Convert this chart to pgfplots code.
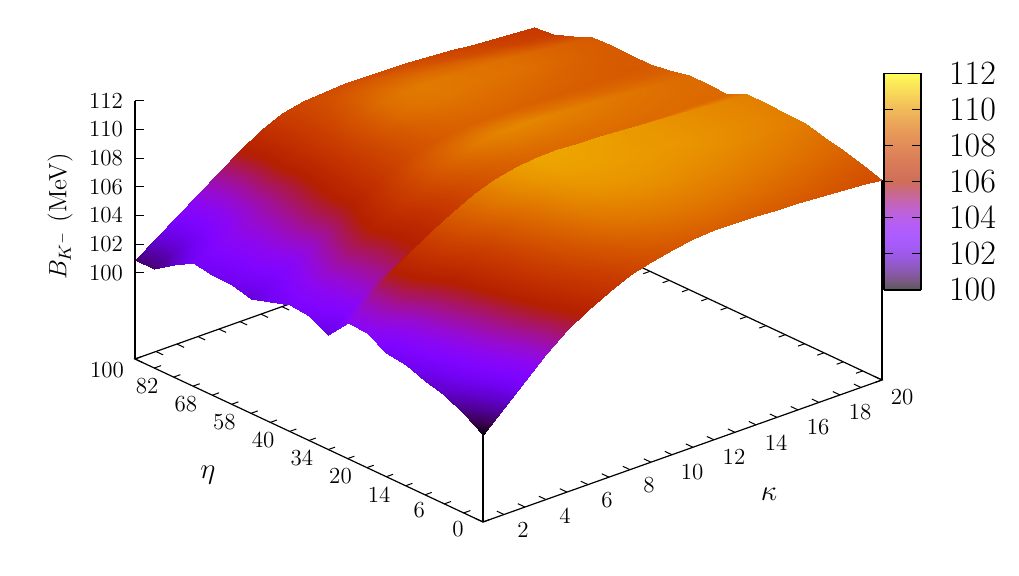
\documentclass[border=0pt]{standalone}
\usepackage{fix-cm}
\usepackage{pgfplots}
\usepackage{pgfplotstable}
\pgfplotsset{compat=1.18}

\pgfplotsset{
  colormap={gp}{rgb=(0,0,0) rgb=(.224,0,.309) rgb=(.316,.001,.588) rgb=(.387,.003,.809) rgb=(.447,.008,.951)
    rgb=(.5,.016,1) rgb=(.548,.027,.951) rgb=(.592,.043,.809) rgb=(.632,.064,.588) rgb=(.671,.091,.309)
    rgb=(.707,.125,0) rgb=(.742,.166,0) rgb=(.775,.216,0) rgb=(.806,.275,0) rgb=(.837,.343,0)
    rgb=(.866,.422,0) rgb=(.894,.512,0) rgb=(.922,.614,0) rgb=(.949,.729,0) rgb=(.975,.857,0) rgb=(1,1,0)},
  colormap={gpbar}{rgb=(.35,.35,.35) rgb=(.496,.35,.551) rgb=(.555,.351,.732) rgb=(.602,.352,.876) rgb=(.641,.355,.968)
    rgb=(.675,.36,1) rgb=(.706,.368,.968) rgb=(.735,.378,.876) rgb=(.761,.392,.732) rgb=(.786,.409,.551)
    rgb=(.81,.431,.35) rgb=(.832,.458,.35) rgb=(.854,.49,.35) rgb=(.874,.529,.35) rgb=(.894,.573,.35)
    rgb=(.913,.624,.35) rgb=(.931,.683,.35) rgb=(.949,.749,.35) rgb=(.967,.824,.35) rgb=(.984,.907,.35) rgb=(1,1,.35)},
}

% B_K- on the grid: one line per eta index (0..18), kappa = 1..20 along each line
\pgfplotstableread[row sep=\\]{
z \\
100.07 \\ 101.43 \\ 102.80 \\ 104.16 \\ 105.30 \\ 106.20 \\ 106.95 \\ 107.55 \\ 108.00 \\ 108.30 \\ 108.50 \\ 108.60 \\ 108.60 \\ 108.55 \\ 108.50 \\ 108.42 \\ 108.33 \\ 108.22 \\ 108.10 \\ 107.95 \\
100.90 \\ 102.10 \\ 103.30 \\ 104.55 \\ 105.65 \\ 106.55 \\ 107.30 \\ 107.95 \\ 108.45 \\ 108.80 \\ 109.00 \\ 109.10 \\ 109.10 \\ 109.05 \\ 109.00 \\ 108.90 \\ 108.80 \\ 108.65 \\ 108.50 \\ 108.40 \\
101.60 \\ 102.70 \\ 103.85 \\ 105.00 \\ 106.05 \\ 106.95 \\ 107.75 \\ 108.40 \\ 108.95 \\ 109.30 \\ 109.45 \\ 109.50 \\ 109.50 \\ 109.45 \\ 109.40 \\ 109.30 \\ 109.20 \\ 109.10 \\ 108.95 \\ 108.80 \\
101.96 \\ 103.05 \\ 104.20 \\ 105.30 \\ 106.35 \\ 107.30 \\ 108.10 \\ 108.80 \\ 109.35 \\ 109.65 \\ 109.80 \\ 109.85 \\ 109.80 \\ 109.75 \\ 109.70 \\ 109.60 \\ 109.50 \\ 109.40 \\ 109.25 \\ 109.07 \\
102.40 \\ 103.45 \\ 104.55 \\ 105.60 \\ 106.65 \\ 107.55 \\ 108.40 \\ 109.10 \\ 109.65 \\ 109.95 \\ 110.05 \\ 110.05 \\ 110.00 \\ 109.95 \\ 109.90 \\ 109.85 \\ 109.75 \\ 109.65 \\ 109.55 \\ 109.40 \\
102.65 \\ 103.75 \\ 104.90 \\ 105.95 \\ 106.95 \\ 107.85 \\ 108.70 \\ 109.35 \\ 109.85 \\ 110.15 \\ 110.20 \\ 110.20 \\ 110.15 \\ 110.10 \\ 110.05 \\ 109.95 \\ 109.85 \\ 109.75 \\ 109.65 \\ 109.50 \\
103.40 \\ 104.50 \\ 105.65 \\ 106.65 \\ 107.60 \\ 108.45 \\ 109.15 \\ 109.70 \\ 110.10 \\ 110.30 \\ 110.30 \\ 110.25 \\ 110.20 \\ 110.10 \\ 110.05 \\ 109.95 \\ 109.85 \\ 109.75 \\ 109.65 \\ 109.50 \\
103.46 \\ 104.60 \\ 105.90 \\ 106.85 \\ 107.80 \\ 108.60 \\ 109.30 \\ 109.85 \\ 110.20 \\ 110.35 \\ 110.35 \\ 110.30 \\ 110.26 \\ 110.15 \\ 110.05 \\ 109.95 \\ 109.84 \\ 109.74 \\ 109.63 \\ 109.53 \\
102.00 \\ 103.10 \\ 104.30 \\ 105.10 \\ 105.90 \\ 106.50 \\ 107.10 \\ 107.70 \\ 108.10 \\ 108.40 \\ 108.60 \\ 108.75 \\ 108.85 \\ 108.90 \\ 108.95 \\ 108.95 \\ 108.95 \\ 108.95 \\ 108.90 \\ 108.90 \\
102.65 \\ 103.45 \\ 104.30 \\ 105.10 \\ 105.85 \\ 106.50 \\ 107.20 \\ 107.85 \\ 108.40 \\ 108.75 \\ 109.05 \\ 109.15 \\ 109.20 \\ 109.20 \\ 109.20 \\ 109.15 \\ 109.10 \\ 109.05 \\ 109.00 \\ 108.97 \\
102.80 \\ 103.55 \\ 104.45 \\ 105.30 \\ 106.15 \\ 106.90 \\ 107.65 \\ 108.35 \\ 108.95 \\ 109.40 \\ 109.65 \\ 109.70 \\ 109.65 \\ 109.55 \\ 109.45 \\ 109.35 \\ 109.25 \\ 109.15 \\ 109.05 \\ 108.96 \\
102.40 \\ 103.15 \\ 104.00 \\ 104.90 \\ 105.80 \\ 106.65 \\ 107.45 \\ 108.20 \\ 108.70 \\ 109.00 \\ 109.20 \\ 109.25 \\ 109.20 \\ 109.10 \\ 109.05 \\ 108.95 \\ 108.85 \\ 108.80 \\ 108.70 \\ 108.65 \\
101.96 \\ 102.65 \\ 103.45 \\ 104.40 \\ 105.35 \\ 106.20 \\ 107.00 \\ 107.70 \\ 108.20 \\ 108.50 \\ 108.70 \\ 108.75 \\ 108.75 \\ 108.70 \\ 108.65 \\ 108.60 \\ 108.55 \\ 108.50 \\ 108.45 \\ 108.45 \\
102.30 \\ 103.00 \\ 103.75 \\ 104.55 \\ 105.40 \\ 106.20 \\ 106.95 \\ 107.65 \\ 108.20 \\ 108.65 \\ 108.90 \\ 109.00 \\ 109.00 \\ 108.95 \\ 108.90 \\ 108.80 \\ 108.70 \\ 108.60 \\ 108.50 \\ 108.45 \\
102.40 \\ 103.00 \\ 103.70 \\ 104.40 \\ 105.20 \\ 106.00 \\ 106.85 \\ 107.65 \\ 108.35 \\ 109.00 \\ 109.25 \\ 109.30 \\ 109.25 \\ 109.20 \\ 109.15 \\ 109.05 \\ 108.90 \\ 108.75 \\ 108.60 \\ 108.50 \\
102.60 \\ 103.10 \\ 103.70 \\ 104.30 \\ 105.00 \\ 105.85 \\ 106.75 \\ 107.60 \\ 108.35 \\ 109.05 \\ 109.30 \\ 109.35 \\ 109.30 \\ 109.20 \\ 109.15 \\ 109.05 \\ 108.90 \\ 108.75 \\ 108.60 \\ 108.45 \\
101.80 \\ 102.50 \\ 103.20 \\ 104.00 \\ 104.95 \\ 105.95 \\ 106.80 \\ 107.50 \\ 108.15 \\ 108.70 \\ 108.95 \\ 109.00 \\ 108.95 \\ 108.85 \\ 108.75 \\ 108.60 \\ 108.40 \\ 108.20 \\ 108.05 \\ 107.90 \\
100.90 \\ 101.80 \\ 102.75 \\ 103.75 \\ 104.75 \\ 105.80 \\ 106.75 \\ 107.45 \\ 107.95 \\ 108.35 \\ 108.50 \\ 108.55 \\ 108.50 \\ 108.35 \\ 108.20 \\ 108.05 \\ 107.90 \\ 107.70 \\ 107.55 \\ 107.40 \\
100.90 \\ 101.90 \\ 102.93 \\ 103.95 \\ 104.96 \\ 106.00 \\ 106.84 \\ 107.52 \\ 107.83 \\ 107.94 \\ 108.01 \\ 108.01 \\ 107.98 \\ 107.91 \\ 107.81 \\ 107.71 \\ 107.57 \\ 107.43 \\ 107.33 \\ 107.26 \\
}\surfdata

\begin{document}
\begin{tikzpicture}
\begin{axis}[
    x={(10.5pt,3.737pt)},
    y={(-9.667pt,4.528pt)},
    z={(0pt,7.167pt)},
    xmin=1, xmax=20, ymin=0, ymax=18, zmin=94, zmax=112,
    clip=false,
    colormap name=gp,
    point meta min=100, point meta max=112,
    axis line style={draw=none},
    major tick length=0pt, minor tick length=0pt,
    tick style={draw=none},
    tick label style={font=\fontsize{11.5}{13}\selectfont},
    /pgf/number format/assume math mode=true,
    xtick={2,4,...,20},
    ytick={0,2,...,18},
    yticklabels={0,6,14,20,34,40,58,68,82,100},
    ztick={100,102,...,112},
    xticklabel style={xshift=4.5pt},
    yticklabel style={xshift=-7pt, yshift=4.5pt},
    zticklabel style={xshift=-2.5pt, yshift=-0.4pt},
    xlabel={$\kappa$}, ylabel={$\eta$}, zlabel={$B_{K^-}$ (MeV)},
    xlabel style={at={(axis cs:10.37,-4.62,94)}, anchor=center, font=\fontsize{14.5}{16}\selectfont},
    ylabel style={at={(axis cs:-3.74,9.08,94)}, anchor=center, rotate=0, font=\fontsize{14.5}{16}\selectfont},
    zlabel style={at={(axis cs:7.2,28.6,94)}, anchor=center, rotate=0, font=\fontsize{12.5}{14}\selectfont},
]
\coordinate (ref) at (axis cs:1,0,94);
\draw[line width=0.6pt] (axis cs:1,0,94) -- (axis cs:20,0,94) -- (axis cs:20,18,94) -- (axis cs:1,18,94) -- cycle;
\draw[line width=0.6pt] (axis cs:1,18,94) -- (axis cs:1,18,112);
\draw[line width=0.6pt] (axis cs:1,0,94) -- (axis cs:1,0,100.07);
\draw[line width=0.6pt] (axis cs:20,0,94) -- (axis cs:20,0,107.95);
% floor ticks on all four edges, z ticks only on the left post
\pgfplotsinvokeforeach{1,...,20}{
  \draw[line width=0.5pt] (axis cs:#1,0,94) -- (axis cs:#1,0.37,94);
  \draw[line width=0.5pt] (axis cs:#1,18,94) -- (axis cs:#1,17.63,94);
}
\pgfplotsinvokeforeach{0,...,18}{
  \draw[line width=0.5pt] (axis cs:1,#1,94) -- (axis cs:1.32,#1,94);
  \draw[line width=0.5pt] (axis cs:20,#1,94) -- (axis cs:19.68,#1,94);
}
\pgfplotsinvokeforeach{100,102,...,112}{
  \draw[line width=0.5pt] (axis cs:1,18,#1) -- ++(4.5pt,0pt);
}
\addplot3[surf, shader=interp, z buffer=sort, mesh/cols=20, mesh/ordering=x varies, point meta=z]
  table[x index=0, y index=0, z index=0, x expr={mod(\coordindex,20)+1}, y expr={floor((\coordindex+0.5)/20)}] {\surfdata};
\end{axis}

\coordinate (cbar) at ([shift={(200.5pt,116pt)}]ref);
\begin{axis}[
    at={(cbar)}, anchor=south west,
    view={0}{90},
    scale only axis, width=18.5pt, height=108.25pt,
    xmin=0, xmax=1, ymin=100, ymax=112,
    colormap name=gpbar,
    point meta min=100, point meta max=112,
    xtick=\empty,
    ytick={100,102,...,112},
    yticklabel pos=right,
    ytick pos=both,
    tick align=inside,
    major tick length=4.5pt,
    every tick/.style={black, line width=0.5pt},
    axis line style={line width=0.6pt},
    axis on top,
    /pgf/number format/assume math mode=true,
    yticklabel style={font=\fontsize{17}{19}\selectfont, xshift=10.5pt},
]
\addplot3[surf, shader=interp, mesh/cols=2, point meta=y] coordinates {
(0,100,0) (1,100,0)
(0,101,0) (1,101,0)
(0,102,0) (1,102,0)
(0,103,0) (1,103,0)
(0,104,0) (1,104,0)
(0,105,0) (1,105,0)
(0,106,0) (1,106,0)
(0,107,0) (1,107,0)
(0,108,0) (1,108,0)
(0,109,0) (1,109,0)
(0,110,0) (1,110,0)
(0,111,0) (1,111,0)
(0,112,0) (1,112,0)
};
\end{axis}
\pgfresetboundingbox
\path[use as bounding box] ([shift={(-241.5pt,-27pt)}]ref) rectangle ([shift={(268pt,261pt)}]ref);
\end{tikzpicture}
\end{document}
